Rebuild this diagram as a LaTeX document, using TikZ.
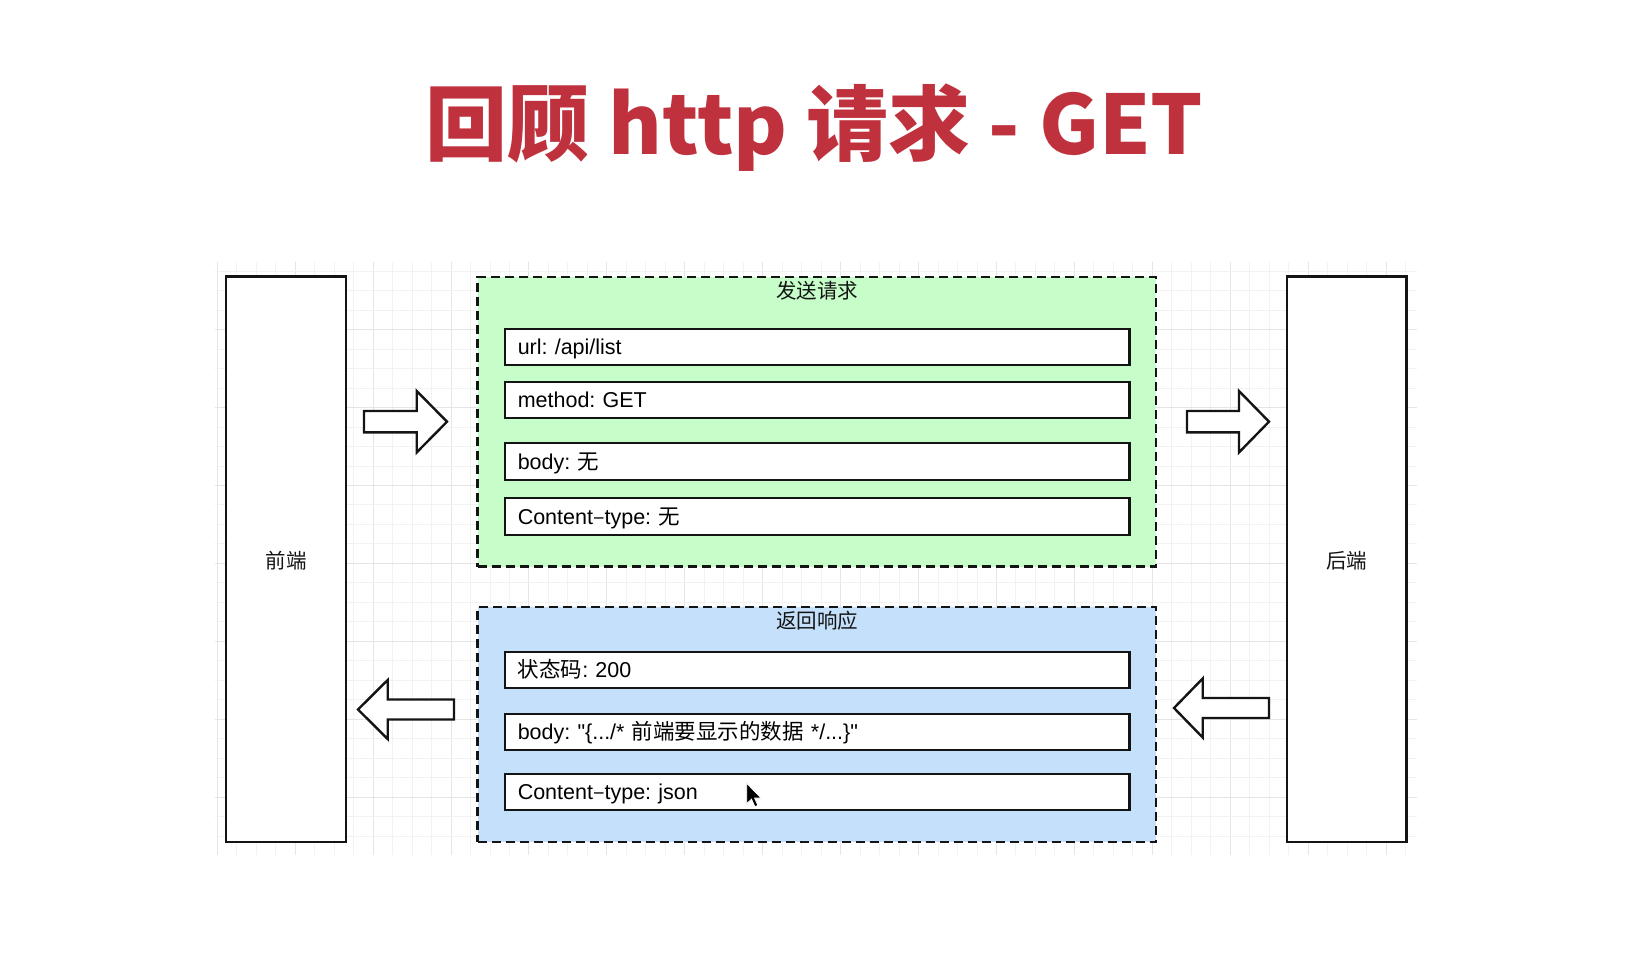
\documentclass[tikz,border=0pt]{standalone}
\usepackage{fontspec}
\setmainfont{Liberation Sans}
\newfontfamily\qfont{Liberation Sans}
\newfontfamily\cjk{Noto Sans CJK SC}
\frenchspacing
\newcommand{\sq}{{\qfont\char34}}
\definecolor{titlered}{RGB}{192,49,62}
\definecolor{greenfill}{RGB}{199,253,201}
\definecolor{bluefill}{RGB}{197,224,251}
\definecolor{gridminor}{RGB}{242,242,242}
\definecolor{gridmajor}{RGB}{229,229,229}
\definecolor{ink}{RGB}{20,20,20}
\tikzset{
  sidebox/.style={draw=ink, line width=2.4pt, fill=white, minimum width=120pt, minimum height=565.3pt, inner sep=0pt},
  group/.style={draw=ink, line width=2.4pt, dash pattern=on 9pt off 5pt, minimum width=678.5pt, inner sep=0pt},
  field/.style={draw=ink, line width=2.4pt, fill=white, minimum width=624.3pt, minimum height=36.5pt,
     text width=598.9pt, inner xsep=12.7pt, inner ysep=0pt, align=left, text height=17pt, text depth=2pt,
     font=\fontsize{21.5}{25}\selectfont},
  caption/.style={font=\cjk\fontsize{20.5}{24}\selectfont, text=ink, inner sep=0pt},
  blockarrow/.style={draw=ink, line width=2.4pt, fill=white, line join=miter},
}
\begin{document}
\begin{tikzpicture}[x=1pt, y=-1pt]
\useasboundingbox[fill=white] (0,0) rectangle (1630,955);
% grid
\foreach \k in {0,...,61} {
  \pgfmathsetmacro{\gx}{217.3+19.48*\k}
  \pgfmathtruncatemacro{\m}{mod(\k,4)}
  \ifnum\m=0
    \draw[gridmajor, line width=1pt] (\gx,262) -- (\gx,855);
  \else
    \draw[gridminor, line width=1pt] (\gx,262) -- (\gx,855);
  \fi
}
\foreach \k in {0,...,29} {
  \pgfmathsetmacro{\gy}{271.2+19.48*\k}
  \pgfmathtruncatemacro{\m}{mod(\k+1,4)}
  \ifnum\m=0
    \draw[gridmajor, line width=1pt] (215,\gy) -- (1417,\gy);
  \else
    \draw[gridminor, line width=1pt] (215,\gy) -- (1417,\gy);
  \fi
}
% title
\node[anchor=base, inner sep=0pt, text=titlered, font=\cjk\bfseries\fontsize{82}{90}\selectfont] (title) at (814.5,154) {回顾 http 请求 - GET};
% side boxes
\node[sidebox] (front) at (286,559.3) {};
\node[caption] (frontlabel) at (286,561) {前端};
\node[sidebox, minimum width=119.5pt] (back) at (1346.7,559.3) {};
\node[caption] (backlabel) at (1346.7,561) {后端};
% request group
\node[group, fill=greenfill, minimum height=289.5pt] (req) at (816.75,421.75) {};
\node[caption] (reqtitle) at (817,290.5) {发送请求};
\node[field] (url) at (817.2,347) {url: /api/list};
\node[field] (method) at (817.2,400) {method: GET};
\node[field] (body) at (817.2,461.5) {body: {\cjk 无}};
\node[field] (ctype) at (817.2,516.5) {Content{\cjk –}type: {\cjk 无}};
% response group
\node[group, fill=bluefill, minimum height=235pt] (res) at (816.75,724.5) {};
\node[caption] (restitle) at (817,620.5) {返回响应};
\node[field] (status) at (817.2,670) {{\cjk 状态码}: 200};
\node[field] (rbody) at (817.2,732) {body: \sq\{.../* {\cjk 前端要显示的数据} */...\}\sq};
\node[field] (rctype) at (817.2,792) {Content{\cjk –}type: json};
% block arrows
\draw[blockarrow] (364,411) -- (416.7,411) -- (416.7,391) -- (447,421.7) -- (416.7,452.4) -- (416.7,432.4) -- (364,432.4) -- cycle;
\draw[blockarrow] (1187,411) -- (1239,411) -- (1239,391) -- (1269,421.7) -- (1239,452.4) -- (1239,432.4) -- (1187,432.4) -- cycle;
\draw[blockarrow] (454,699.5) -- (387.7,699.5) -- (387.7,680) -- (358,709.5) -- (387.7,739) -- (387.7,719.5) -- (454,719.5) -- cycle;
\draw[blockarrow] (1269,698) -- (1202.7,698) -- (1202.7,678.5) -- (1174,708) -- (1202.7,737.5) -- (1202.7,718) -- (1269,718) -- cycle;
% mouse pointer
\begin{scope}[shift={(746.7,783.3)}, x=1.2pt, y=-1.2pt]
\draw[fill=black, draw=white, line width=0.8pt, line join=miter] (0,0) -- (0,17) -- (4,13.2) -- (6.8,19.5) -- (9.3,18.4) -- (6.6,12.3) -- (12,12.3) -- cycle;
\end{scope}
\end{tikzpicture}
\end{document}
